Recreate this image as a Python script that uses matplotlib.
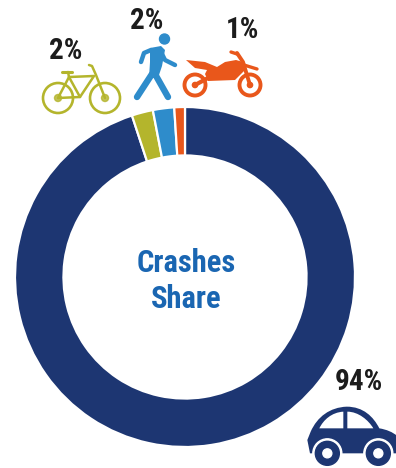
import matplotlib
matplotlib.use("Agg")
import matplotlib.pyplot as plt
from matplotlib.patches import Circle, PathPatch, Polygon
from matplotlib.path import Path

W, H = 396, 468

modes = ["Car", "Bicycle", "Pedestrian", "Motorcycle"]
shares = [94, 2, 2, 1]
colors = ["#1d3672", "#b4b52c", "#2e8ccb", "#e9571b"]
share_labels = ["94%", "2%", "2%", "1%"]
label_pos = [(359, 382), (66, 51), (147, 21), (243, 30)]

NARROW = ["Roboto Condensed", "Barlow Condensed", "Asap Condensed", "Roboto", "DejaVu Sans"]

fig = plt.figure(figsize=(W / 100, H / 100), dpi=100, facecolor="white")

# donut
cx, cy, r = 185, 277, 170
pie_ax = fig.add_axes([(cx - r) / W, 1 - (cy + r) / H, 2 * r / W, 2 * r / H])
pie_ax.pie(shares, colors=colors, startangle=90, counterclock=False, radius=1,
           wedgeprops=dict(width=0.285, edgecolor="white", linewidth=1.6))
pie_ax.set_xlim(-1, 1)
pie_ax.set_ylim(-1, 1)

# overlay in pixel coordinates for the icons and text
ax = fig.add_axes([0, 0, 1, 1])
ax.set_xlim(0, W)
ax.set_ylim(H, 0)
ax.axis("off")
ax.patch.set_alpha(0)

ax.text(186, 263, "Crashes", color="#1a66b2", fontsize=22, fontweight="bold",
        family=NARROW, ha="center", va="center")
ax.text(186, 299, "Share", color="#1a66b2", fontsize=22, fontweight="bold",
        family=NARROW, ha="center", va="center")

for lab, (x, y) in zip(share_labels, label_pos):
    ax.text(x, y, lab, color="#1c1c1c", fontsize=21, fontweight="bold",
            family=NARROW, ha="center", va="center")


def stroke(points, color, lw):
    xs, ys = zip(*points)
    ax.plot(xs, ys, color=color, lw=lw, solid_capstyle="round", solid_joinstyle="round")


# bicycle
bike = colors[1]
for x in (58, 105):
    ax.add_patch(Circle((x, 98), 15, fill=False, ec=bike, lw=1.9))
    ax.add_patch(Circle((x, 98), 3.5, color=bike, alpha=0.8))
stroke([(58, 98), (69, 77), (80, 97), (58, 98)], bike, 1.8)
stroke([(69, 77), (94, 76), (80, 97)], bike, 1.8)
stroke([(105, 98), (96, 75), (92, 66), (89, 65)], bike, 1.8)
stroke([(62, 71.5), (72, 71.5)], bike, 2.2)
stroke([(68, 72), (69, 77)], bike, 1.8)

# pedestrian
walker = colors[2]
ax.add_patch(Circle((164.5, 39), 5, color=walker))
ax.add_patch(Polygon([(150, 48), (161, 46), (165, 50), (162, 66), (158, 78), (149, 78), (150, 62)],
                     closed=True, color=walker, lw=0))
stroke([(151, 50), (144, 53), (141, 62)], walker, 3.2)
stroke([(161, 52), (165, 60), (175, 65)], walker, 3.2)
stroke([(152, 74), (137, 97)], walker, 4.6)
stroke([(155, 74), (168, 97)], walker, 4.6)

# motorcycle
moto = colors[3]
for x in (195, 250):
    ax.add_patch(Circle((x, 85), 10.5, fill=False, ec=moto, lw=2.8))
    ax.add_patch(Circle((x, 85), 2.6, color=moto))
ax.add_patch(Polygon([(186, 60), (205, 62), (217, 67), (225, 62), (236, 60), (243, 62), (245, 70),
                      (235, 80), (208, 81), (205, 74), (207, 70), (195, 68)],
                     closed=True, color=moto, lw=0))
stroke([(237, 53), (243, 62), (250, 85)], moto, 2.8)
stroke([(244, 65), (257, 69)], moto, 2.4)
stroke([(231, 52), (237, 54)], moto, 2.4)
stroke([(208, 78), (195, 85)], moto, 3)

# car
car = colors[0]


def z(x, y):
    return (290 + x / 3, 360 + y / 3)


verts = [z(60, 280), z(52, 240), z(62, 215), z(82, 170), z(120, 142), z(170, 140),
         z(220, 140), z(250, 170), z(268, 205), z(310, 212), z(345, 235), z(342, 280),
         z(60, 280)]
codes = [Path.MOVETO, Path.LINETO, Path.LINETO, Path.CURVE4, Path.CURVE4, Path.CURVE4,
         Path.CURVE4, Path.CURVE4, Path.CURVE4, Path.CURVE4, Path.CURVE4, Path.CURVE4,
         Path.CLOSEPOLY]
ax.add_patch(PathPatch(Path(verts, codes), fc=car, ec="none"))

left_win = [z(88, 205), z(100, 180), z(125, 157), z(160, 155), z(160, 205), z(88, 205)]
right_win = [z(172, 155), z(205, 155), z(235, 180), z(250, 205), z(172, 205), z(172, 205)]
for win in (left_win, right_win):
    c = [Path.MOVETO, Path.CURVE4, Path.CURVE4, Path.CURVE4, Path.LINETO, Path.CLOSEPOLY]
    ax.add_patch(PathPatch(Path(win, c), fc="white", ec="none"))

for x in (112, 265):
    cxy = z(x, 280)
    ax.add_patch(Circle(cxy, 14.5, color="white", zorder=3))
    ax.add_patch(Circle(cxy, 12, color=car, zorder=4))
    ax.add_patch(Circle(cxy, 4.5, color="white", zorder=5))

fig.savefig("out.png", dpi=100, facecolor="white")
